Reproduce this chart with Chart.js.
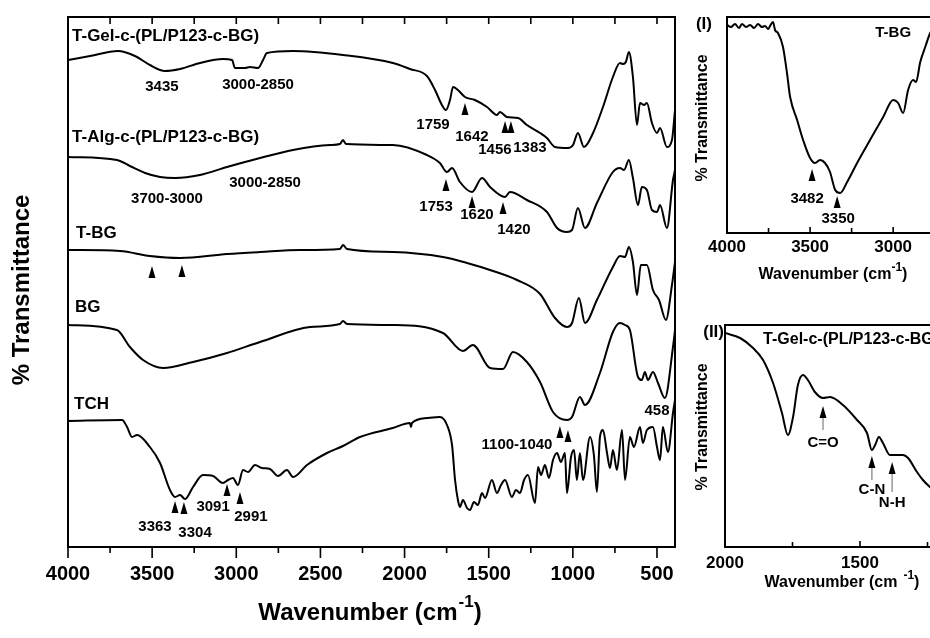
<!DOCTYPE html>
<html>
<head>
<meta charset="utf-8">
<title>FTIR spectra</title>
<script src="https://cdn.jsdelivr.net/npm/chart.js@4.4.1/dist/chart.umd.min.js"></script>
<style>
  html, body { margin: 0; padding: 0; background: #fff; overflow: hidden; }
  body { width: 930px; height: 638px; position: relative; }
  canvas { position: absolute; }
  #main { left: 0; top: 0; }
  #inset1 { left: 680px; top: 0; }
  #inset2 { left: 680px; top: 300px; }
</style>
</head>
<body>
<canvas id="main" width="930" height="638"></canvas>
<canvas id="inset1" width="300" height="300"></canvas>
<canvas id="inset2" width="300" height="338"></canvas>
<script>
// Spectra (x = wavenumber in cm-1, y = transmittance, arbitrary offset units)
const tgelWn = [4000, 3869, 3703, 3602, 3513, 3424, 3334, 3216, 3079, 3025, 3008, 2948, 2919, 2871, 2841, 2818, 2663, 2366, 2069, 1968, 1867, 1819, 1778, 1754, 1730, 1712, 1683, 1641, 1582, 1510, 1451, 1433, 1392, 1326, 1273, 1195, 1154, 1106, 1029, 999, 970, 934, 880, 821, 762, 720, 702, 685, 667, 643, 619, 601, 577, 560, 530, 500, 482, 441, 411, 393];
const tgelT = [487, 491, 496, 491, 482, 476, 478, 484, 488, 487, 479, 479, 480, 479, 487, 494, 496, 492, 484, 478, 471, 457, 442, 437, 447, 460, 457, 450, 447, 440, 432, 435, 430, 429, 422, 414, 409, 400, 399, 402, 414, 400, 414, 440, 470, 484, 483, 485, 495, 470, 422, 444, 442, 444, 424, 414, 419, 400, 407, 437];

const talgWn = [4000, 3709, 3632, 3542, 3453, 3364, 3216, 3055, 2859, 2663, 2443, 2384, 2366, 2348, 2069, 1867, 1790, 1748, 1718, 1671, 1599, 1540, 1492, 1403, 1374, 1273, 1154, 1094, 1035, 1005, 970, 928, 857, 762, 720, 696, 667, 643, 613, 590, 560, 530, 500, 482, 441, 405, 393];
const talgT = [390, 387, 381, 374, 370, 369, 372, 380, 389, 397, 402, 403, 407, 403, 402, 392, 384, 375, 379, 365, 355, 369, 360, 350, 355, 347, 335, 319, 315, 317, 339, 319, 344, 375, 379, 377, 387, 369, 342, 360, 357, 337, 335, 342, 319, 367, 377];

const tbgWn = [4000, 3691, 3513, 3334, 3055, 2859, 2621, 2384, 2366, 2342, 2069, 1772, 1629, 1492, 1332, 1195, 1106, 1035, 1005, 964, 928, 857, 762, 720, 690, 667, 643, 619, 596, 560, 524, 488, 447, 411, 393];
const tbgT = [297, 296, 291, 289, 293, 295, 297, 298, 302, 298, 295, 290, 284, 277, 267, 253, 229, 220, 224, 249, 224, 247, 280, 291, 290, 300, 285, 252, 282, 282, 257, 247, 227, 262, 285];

const bgWn = [4000, 3709, 3632, 3554, 3435, 3257, 3055, 2859, 2562, 2384, 2366, 2342, 2069, 1772, 1653, 1594, 1492, 1415, 1356, 1273, 1195, 1118, 1035, 1005, 958, 928, 839, 762, 720, 690, 661, 613, 590, 572, 554, 524, 494, 453, 405, 393];
const bgT = [222, 217, 200, 187, 179, 185, 194, 205, 220, 223, 226, 223, 222, 214, 196, 202, 179, 178, 195, 185, 165, 135, 127, 130, 150, 142, 174, 215, 224, 222, 217, 170, 167, 175, 167, 175, 164, 149, 200, 217];

const tchWn = [4000, 3679, 3649, 3620, 3590, 3513, 3453, 3394, 3364, 3334, 3305, 3257, 3198, 3138, 3079, 3049, 3020, 2990, 2960, 2930, 2889, 2847, 2800, 2752, 2699, 2663, 2580, 2461, 2366, 2265, 2069, 1968, 1962, 1956, 1867, 1790, 1748, 1718, 1700, 1683, 1671, 1653, 1629, 1611, 1588, 1564, 1540, 1522, 1481, 1451, 1427, 1403, 1362, 1338, 1314, 1290, 1267, 1225, 1207, 1189, 1166, 1142, 1118, 1094, 1071, 1047, 1035, 1011, 993, 976, 958, 940, 898, 875, 857, 839, 821, 797, 779, 762, 738, 708, 690, 661, 637, 601, 584, 560, 524, 500, 482, 465, 435, 405, 393];
const tchT = [126, 127, 120, 110, 112, 100, 84, 57, 50, 52, 48, 60, 72, 71, 64, 67, 69, 62, 77, 75, 82, 79, 78, 71, 77, 70, 82, 94, 101, 110, 119, 124, 120, 124, 129, 130, 122, 102, 67, 47, 40, 47, 39, 37, 45, 42, 54, 49, 67, 54, 62, 67, 50, 57, 54, 67, 72, 44, 80, 72, 82, 69, 87, 94, 85, 94, 54, 90, 97, 67, 94, 67, 110, 92, 55, 110, 117, 94, 79, 97, 77, 117, 67, 110, 100, 120, 104, 117, 120, 100, 87, 120, 95, 134, 147];

// Inset (I): T-BG, 4000-2700 cm-1
const in1Wn = [4000, 3976, 3952, 3928, 3910, 3885, 3861, 3837, 3813, 3790, 3771, 3752, 3741, 3723, 3711, 3693, 3663, 3639, 3620, 3578, 3542, 3500, 3470, 3440, 3410, 3380, 3349, 3319, 3277, 3217, 3139, 3060, 3000, 2970, 2940, 2910, 2880, 2862, 2837, 2807, 2777, 2747, 2717];
const in1T = [208, 206, 209, 205, 209, 206, 208, 205, 209, 206, 207, 204, 207, 211, 203, 200, 186, 160, 136, 113, 93, 75, 70, 73, 70, 61, 43, 40, 51, 70, 93, 116, 133, 130, 120, 143, 153, 151, 171, 186, 200, 207, 210];

// Inset (II): T-Gel-c-(PL/P123-c-BG), 2000-1200 cm-1
const in2Wn = [2000, 1944, 1896, 1859, 1822, 1789, 1767, 1748, 1730, 1711, 1693, 1667, 1637, 1611, 1563, 1511, 1474, 1456, 1444, 1430, 1415, 1389, 1363, 1341, 1322, 1289, 1267, 1241, 1204];
const in2T = [214, 209, 199, 187, 164, 134, 112, 130, 162, 172, 167, 155, 149, 150, 142, 127, 114, 97, 102, 110, 104, 92, 92, 92, 89, 75, 67, 60, 52];

// Tick labels
const mainTicks = [4000, 3500, 3000, 2500, 2000, 1500, 1000, 500];
const in1Ticks = [4000, 3500, 3000];
const in2Ticks = [2000, 1500];

// Text labels [text, wavenumber, transmittance]
const mainNames = [
  ['T-Gel-c-(PL/P123-c-BG)', 3976, 511],
  ['T-Alg-c-(PL/P123-c-BG)', 3976, 410],
  ['T-BG', 3952, 314],
  ['BG', 3958, 240],
  ['TCH', 3964, 143]
];
const mainPeaks = [
  ['3435', 3442, 460], ['3000-2850', 2871, 462], ['1759', 1831, 422], ['1642', 1600, 410],
  ['1456', 1463, 397], ['1383', 1255, 399], ['3700-3000', 3412, 348], ['3000-2850', 2829, 364],
  ['1753', 1813, 340], ['1620', 1570, 332], ['1420', 1350, 317], ['458', 500, 136],
  ['1100-1040', 1332, 102], ['3363', 3483, 20], ['3304', 3245, 14], ['3091', 3138, 40], ['2991', 2913, 30]
];
const mainArrows = [
  [1641, 438], [1403, 420], [1368, 420], [1754, 362], [1599, 345], [1415, 339], [3501, 275],
  [3323, 276], [1077, 115], [1029, 111], [3364, 40], [3311, 39], [3055, 57], [2978, 49]
];
const in1Peaks = [['3482', 3518, 34], ['3350', 3331, 14]];
const in1Arrows = [[3488, 58], [3337, 31]];
const in2Peaks = [['C=O', 1637, 104], ['C-N', 1456, 57], ['N-H', 1381, 44]];
// [wavenumber, arrow centre, stem end]
const in2Arrows = [[1637, 135, 117], [1456, 85, 67], [1381, 79, 55]];

const FONT = 'Arial, "Liberation Sans", Helvetica, sans-serif';

function series(wn, t) {
  return {
    data: wn.map((w, i) => ({ x: w, y: t[i] })),
    borderColor: '#000',
    borderWidth: 2,
    pointRadius: 0,
    fill: false,
    cubicInterpolationMode: 'monotone'
  };
}

function setFont(ctx, size) {
  ctx.font = 'bold ' + size + 'px ' + FONT;
  ctx.fillStyle = '#000';
  ctx.textBaseline = 'middle';
}

// text placed at data coordinates
function drawLabels(chart, list, size, align) {
  const ctx = chart.ctx;
  setFont(ctx, size);
  ctx.textAlign = align;
  list.forEach(l => {
    ctx.fillText(l[0], chart.scales.x.getPixelForValue(l[1]), chart.scales.y.getPixelForValue(l[2]));
  });
}

// small filled triangles pointing up
function drawArrows(chart, list, w, h) {
  const ctx = chart.ctx;
  ctx.fillStyle = '#000';
  list.forEach(a => {
    const x = chart.scales.x.getPixelForValue(a[0]);
    const y = chart.scales.y.getPixelForValue(a[1]);
    if (a.length > 2) {
      ctx.strokeStyle = '#999';
      ctx.lineWidth = 1.5;
      ctx.beginPath();
      ctx.moveTo(x, y + h / 2);
      ctx.lineTo(x, chart.scales.y.getPixelForValue(a[2]));
      ctx.stroke();
    }
    ctx.beginPath();
    ctx.moveTo(x, y - h / 2);
    ctx.lineTo(x - w / 2, y + h / 2);
    ctx.lineTo(x + w / 2, y + h / 2);
    ctx.closePath();
    ctx.fill();
  });
}

// box round the plot plus tick marks every 250 cm-1
function drawFrame(chart, tk) {
  const ctx = chart.ctx;
  const a = chart.chartArea;
  const x = chart.scales.x;
  ctx.strokeStyle = '#000';
  ctx.lineWidth = 2;
  ctx.strokeRect(a.left, a.top, a.right - a.left, a.bottom - a.top);
  ctx.lineWidth = 1.6;
  ctx.beginPath();
  for (let v = Math.ceil(x.min / 250) * 250; v <= x.max; v += 250) {
    const px = x.getPixelForValue(v);
    const major = v % 500 === 0;
    ctx.moveTo(px, a.bottom);
    ctx.lineTo(px, a.bottom + (major ? tk.major : tk.minor));
    if (tk.top) {
      ctx.moveTo(px, a.top);
      ctx.lineTo(px, a.top + tk.top);
    }
  }
  ctx.stroke();
}

// "Wavenumber (cm-1)" with superscript
function drawWavenumber(ctx, cx, cy, size, gap) {
  const sup = Math.round(size * 0.72);
  setFont(ctx, size);
  const w1 = ctx.measureText('Wavenumber (cm').width;
  const w3 = ctx.measureText(')').width;
  setFont(ctx, sup);
  const w2 = ctx.measureText('-1').width;
  let x = cx - (w1 + gap + w2 + w3) / 2;
  ctx.textAlign = 'left';
  setFont(ctx, size);
  ctx.fillText('Wavenumber (cm', x, cy);
  x += w1 + gap;
  setFont(ctx, sup);
  ctx.fillText('-1', x, cy - size * 0.45);
  x += w2;
  setFont(ctx, size);
  ctx.fillText(')', x, cy);
}

function drawYTitle(ctx, x, y, size) {
  ctx.save();
  ctx.translate(x, y);
  ctx.rotate(-Math.PI / 2);
  setFont(ctx, size);
  ctx.textAlign = 'center';
  ctx.fillText('% Transmittance', 0, 0);
  ctx.restore();
}

function makeChart(id, datasets, cfg, extra) {
  return new Chart(document.getElementById(id), {
    type: 'line',
    data: { datasets: datasets },
    options: {
      responsive: false,
      animation: false,
      events: [],
      layout: { padding: cfg.padding },
      plugins: { legend: { display: false }, tooltip: { enabled: false } },
      scales: {
        x: {
          type: 'linear',
          reverse: true,
          min: cfg.xmin,
          max: cfg.xmax,
          afterFit: s => { s.height = cfg.xHeight; },
          afterBuildTicks: s => { s.ticks = cfg.ticks.map(v => ({ value: v })); },
          grid: { display: false, drawTicks: false },
          border: { display: false },
          ticks: {
            autoSkip: false,
            maxRotation: 0,
            padding: cfg.tickPad,
            color: '#000',
            font: { family: FONT, size: cfg.tickSize, weight: 'bold' },
            callback: v => String(v)
          }
        },
        y: { display: false, min: 0, max: cfg.ymax }
      }
    },
    plugins: [{ id: id + 'Deco', afterDraw: extra }]
  });
}

// Main panel
makeChart('main',
  [series(tgelWn, tgelT), series(talgWn, talgT), series(tbgWn, tbgT), series(bgWn, bgT), series(tchWn, tchT)],
  { padding: { left: 68, right: 255, top: 17, bottom: 0 }, xmin: 393, xmax: 4000, xHeight: 91, tickPad: 15, tickSize: 20, ymax: 530, ticks: mainTicks },
  chart => {
    const ctx = chart.ctx;
    drawFrame(chart, { major: 11, minor: 6, top: 7 });
    drawLabels(chart, mainNames, 17, 'left');
    drawLabels(chart, mainPeaks, 15, 'center');
    drawArrows(chart, mainArrows, 7, 12);
    drawWavenumber(ctx, 370, 613, 24, 1);
    drawYTitle(ctx, 22, 290, 24);
  });

// Inset (I)
makeChart('inset1', [series(in1Wn, in1T)],
  { padding: { left: 47, right: 37, top: 17, bottom: 0 }, xmin: 2700, xmax: 4000, xHeight: 67, tickPad: 4, tickSize: 17, ymax: 216, ticks: in1Ticks },
  chart => {
    const ctx = chart.ctx;
    const a = chart.chartArea;
    drawFrame(chart, { major: -6, minor: -5, top: 0 });
    drawLabels(chart, [['T-BG', 3000, 200]], 15, 'center');
    drawLabels(chart, in1Peaks, 15, 'center');
    drawArrows(chart, in1Arrows, 7, 12);
    setFont(ctx, 17);
    ctx.textAlign = 'right';
    ctx.fillText('(I)', a.left - 15, a.top + 7);
    drawYTitle(ctx, a.left - 24, 118, 16);
    drawWavenumber(ctx, 153, 275, 16, 0);
  });

// Inset (II)
makeChart('inset2', [series(in2Wn, in2T)],
  { padding: { left: 45, right: 39, top: 25, bottom: 0 }, xmin: 1200, xmax: 2000, xHeight: 91, tickPad: 6, tickSize: 17, ymax: 222, ticks: in2Ticks },
  chart => {
    const ctx = chart.ctx;
    const a = chart.chartArea;
    drawFrame(chart, { major: -6, minor: -5, top: 0 });
    drawLabels(chart, [['T-Gel-c-(PL/P123-c-BG)', 1859, 207]], 16, 'left');
    drawLabels(chart, in2Peaks, 15, 'center');
    drawArrows(chart, in2Arrows, 7, 12);
    setFont(ctx, 17);
    ctx.textAlign = 'right';
    ctx.fillText('(II)', a.left - 1, a.top + 7);
    drawYTitle(ctx, a.left - 22, 127, 16);
    drawWavenumber(ctx, 162, 283, 16, 6);
  });
</script>
</body>
</html>
